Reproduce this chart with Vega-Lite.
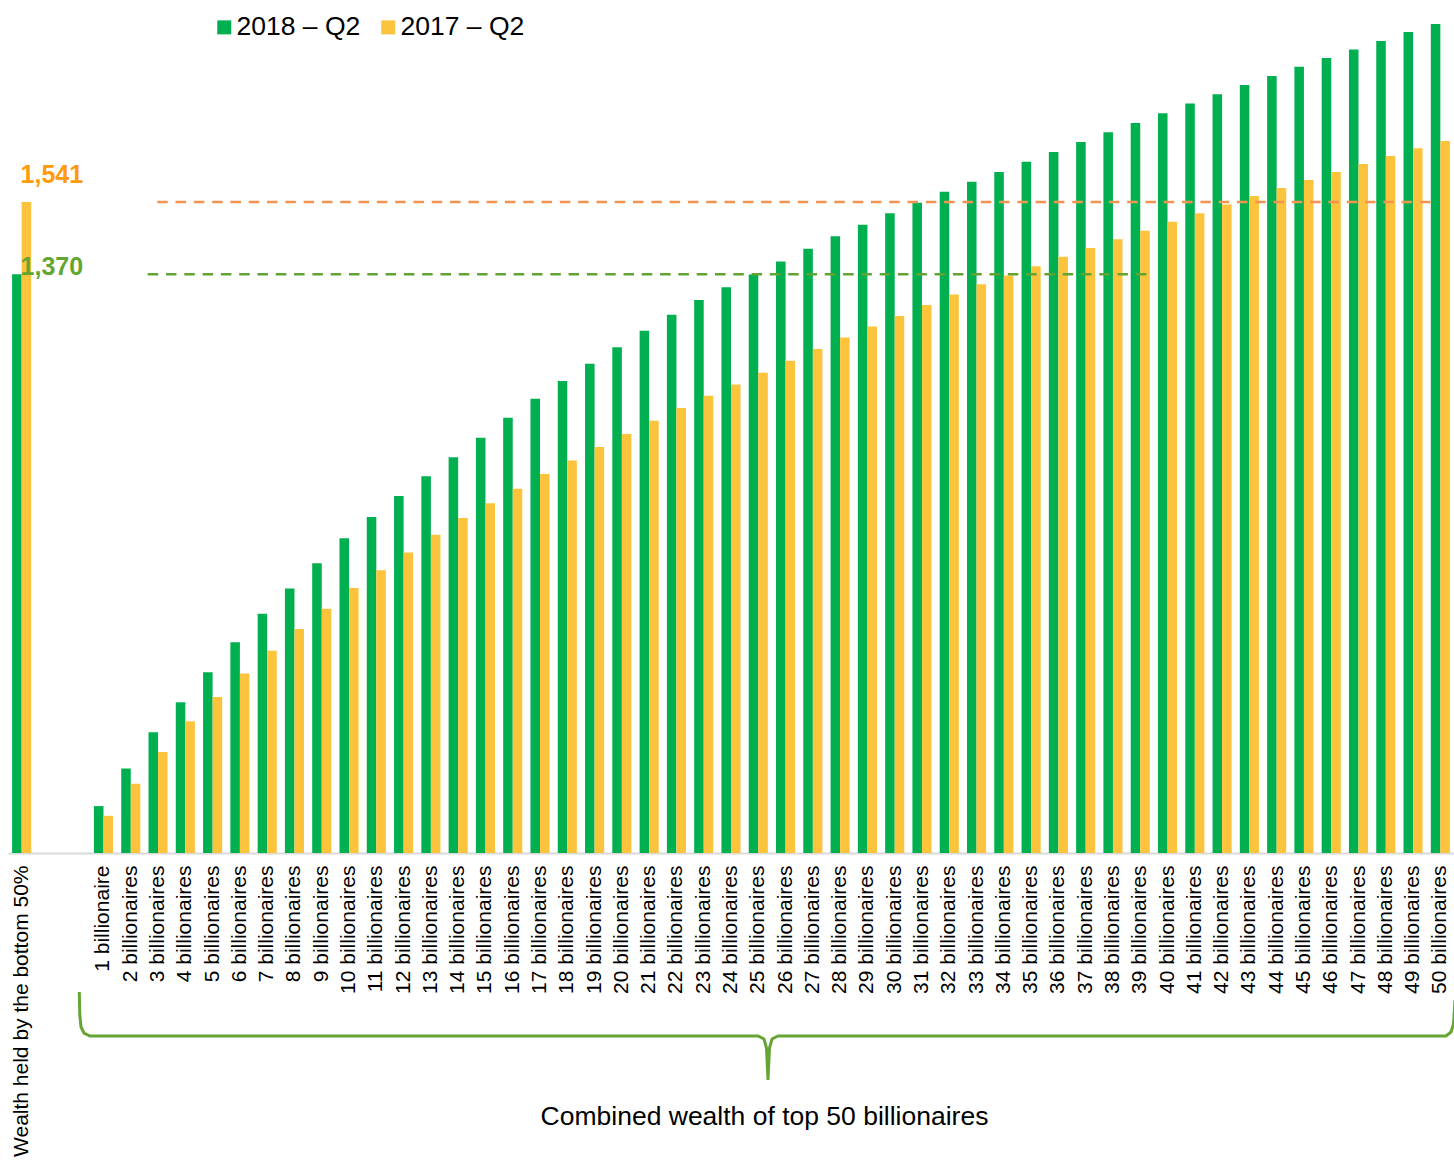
{
  "$schema": "https://vega.github.io/schema/vega-lite/v6.json",
  "width": 1446,
  "height": 853,
  "autosize": {"type": "none"},
  "padding": {"left": 8, "top": 0, "right": 0, "bottom": 307},
  "background": "white",
  "config": {"font": "Liberation Sans", "view": {"stroke": null}},
  "datasets": {
    "bars": [
      {"group": "Wealth held by the bottom 50%", "series": "2018 – Q2", "value": 1370},
      {"group": "Wealth held by the bottom 50%", "series": "2017 – Q2", "value": 1541},
      {"group": "1 billionaire", "series": "2018 – Q2", "value": 111},
      {"group": "1 billionaire", "series": "2017 – Q2", "value": 88},
      {"group": "2 billionaires", "series": "2018 – Q2", "value": 200},
      {"group": "2 billionaires", "series": "2017 – Q2", "value": 164},
      {"group": "3 billionaires", "series": "2018 – Q2", "value": 286},
      {"group": "3 billionaires", "series": "2017 – Q2", "value": 239},
      {"group": "4 billionaires", "series": "2018 – Q2", "value": 357},
      {"group": "4 billionaires", "series": "2017 – Q2", "value": 312},
      {"group": "5 billionaires", "series": "2018 – Q2", "value": 428},
      {"group": "5 billionaires", "series": "2017 – Q2", "value": 369},
      {"group": "6 billionaires", "series": "2018 – Q2", "value": 499},
      {"group": "6 billionaires", "series": "2017 – Q2", "value": 425},
      {"group": "7 billionaires", "series": "2018 – Q2", "value": 566},
      {"group": "7 billionaires", "series": "2017 – Q2", "value": 479},
      {"group": "8 billionaires", "series": "2018 – Q2", "value": 626},
      {"group": "8 billionaires", "series": "2017 – Q2", "value": 530},
      {"group": "9 billionaires", "series": "2018 – Q2", "value": 686},
      {"group": "9 billionaires", "series": "2017 – Q2", "value": 578},
      {"group": "10 billionaires", "series": "2018 – Q2", "value": 745},
      {"group": "10 billionaires", "series": "2017 – Q2", "value": 627},
      {"group": "11 billionaires", "series": "2018 – Q2", "value": 795},
      {"group": "11 billionaires", "series": "2017 – Q2", "value": 669},
      {"group": "12 billionaires", "series": "2018 – Q2", "value": 845},
      {"group": "12 billionaires", "series": "2017 – Q2", "value": 711},
      {"group": "13 billionaires", "series": "2018 – Q2", "value": 892},
      {"group": "13 billionaires", "series": "2017 – Q2", "value": 753},
      {"group": "14 billionaires", "series": "2018 – Q2", "value": 937},
      {"group": "14 billionaires", "series": "2017 – Q2", "value": 793},
      {"group": "15 billionaires", "series": "2018 – Q2", "value": 983},
      {"group": "15 billionaires", "series": "2017 – Q2", "value": 828},
      {"group": "16 billionaires", "series": "2018 – Q2", "value": 1030},
      {"group": "16 billionaires", "series": "2017 – Q2", "value": 862},
      {"group": "17 billionaires", "series": "2018 – Q2", "value": 1075},
      {"group": "17 billionaires", "series": "2017 – Q2", "value": 897},
      {"group": "18 billionaires", "series": "2018 – Q2", "value": 1117},
      {"group": "18 billionaires", "series": "2017 – Q2", "value": 929},
      {"group": "19 billionaires", "series": "2018 – Q2", "value": 1158},
      {"group": "19 billionaires", "series": "2017 – Q2", "value": 961},
      {"group": "20 billionaires", "series": "2018 – Q2", "value": 1197},
      {"group": "20 billionaires", "series": "2017 – Q2", "value": 992},
      {"group": "21 billionaires", "series": "2018 – Q2", "value": 1236},
      {"group": "21 billionaires", "series": "2017 – Q2", "value": 1023},
      {"group": "22 billionaires", "series": "2018 – Q2", "value": 1274},
      {"group": "22 billionaires", "series": "2017 – Q2", "value": 1053},
      {"group": "23 billionaires", "series": "2018 – Q2", "value": 1309},
      {"group": "23 billionaires", "series": "2017 – Q2", "value": 1082},
      {"group": "24 billionaires", "series": "2018 – Q2", "value": 1339},
      {"group": "24 billionaires", "series": "2017 – Q2", "value": 1109},
      {"group": "25 billionaires", "series": "2018 – Q2", "value": 1369},
      {"group": "25 billionaires", "series": "2017 – Q2", "value": 1137},
      {"group": "26 billionaires", "series": "2018 – Q2", "value": 1400},
      {"group": "26 billionaires", "series": "2017 – Q2", "value": 1165},
      {"group": "27 billionaires", "series": "2018 – Q2", "value": 1430},
      {"group": "27 billionaires", "series": "2017 – Q2", "value": 1193},
      {"group": "28 billionaires", "series": "2018 – Q2", "value": 1460},
      {"group": "28 billionaires", "series": "2017 – Q2", "value": 1220},
      {"group": "29 billionaires", "series": "2018 – Q2", "value": 1487},
      {"group": "29 billionaires", "series": "2017 – Q2", "value": 1246},
      {"group": "30 billionaires", "series": "2018 – Q2", "value": 1514},
      {"group": "30 billionaires", "series": "2017 – Q2", "value": 1271},
      {"group": "31 billionaires", "series": "2018 – Q2", "value": 1539},
      {"group": "31 billionaires", "series": "2017 – Q2", "value": 1297},
      {"group": "32 billionaires", "series": "2018 – Q2", "value": 1565},
      {"group": "32 billionaires", "series": "2017 – Q2", "value": 1322},
      {"group": "33 billionaires", "series": "2018 – Q2", "value": 1589},
      {"group": "33 billionaires", "series": "2017 – Q2", "value": 1346},
      {"group": "34 billionaires", "series": "2018 – Q2", "value": 1612},
      {"group": "34 billionaires", "series": "2017 – Q2", "value": 1367},
      {"group": "35 billionaires", "series": "2018 – Q2", "value": 1636},
      {"group": "35 billionaires", "series": "2017 – Q2", "value": 1389},
      {"group": "36 billionaires", "series": "2018 – Q2", "value": 1659},
      {"group": "36 billionaires", "series": "2017 – Q2", "value": 1411},
      {"group": "37 billionaires", "series": "2018 – Q2", "value": 1683},
      {"group": "37 billionaires", "series": "2017 – Q2", "value": 1432},
      {"group": "38 billionaires", "series": "2018 – Q2", "value": 1706},
      {"group": "38 billionaires", "series": "2017 – Q2", "value": 1453},
      {"group": "39 billionaires", "series": "2018 – Q2", "value": 1728},
      {"group": "39 billionaires", "series": "2017 – Q2", "value": 1473},
      {"group": "40 billionaires", "series": "2018 – Q2", "value": 1751},
      {"group": "40 billionaires", "series": "2017 – Q2", "value": 1494},
      {"group": "41 billionaires", "series": "2018 – Q2", "value": 1774},
      {"group": "41 billionaires", "series": "2017 – Q2", "value": 1514},
      {"group": "42 billionaires", "series": "2018 – Q2", "value": 1796},
      {"group": "42 billionaires", "series": "2017 – Q2", "value": 1535},
      {"group": "43 billionaires", "series": "2018 – Q2", "value": 1818},
      {"group": "43 billionaires", "series": "2017 – Q2", "value": 1555},
      {"group": "44 billionaires", "series": "2018 – Q2", "value": 1839},
      {"group": "44 billionaires", "series": "2017 – Q2", "value": 1574},
      {"group": "45 billionaires", "series": "2018 – Q2", "value": 1861},
      {"group": "45 billionaires", "series": "2017 – Q2", "value": 1593},
      {"group": "46 billionaires", "series": "2018 – Q2", "value": 1882},
      {"group": "46 billionaires", "series": "2017 – Q2", "value": 1612},
      {"group": "47 billionaires", "series": "2018 – Q2", "value": 1902},
      {"group": "47 billionaires", "series": "2017 – Q2", "value": 1631},
      {"group": "48 billionaires", "series": "2018 – Q2", "value": 1922},
      {"group": "48 billionaires", "series": "2017 – Q2", "value": 1650},
      {"group": "49 billionaires", "series": "2018 – Q2", "value": 1943},
      {"group": "49 billionaires", "series": "2017 – Q2", "value": 1668},
      {"group": "50 billionaires", "series": "2018 – Q2", "value": 1962},
      {"group": "50 billionaires", "series": "2017 – Q2", "value": 1685}
    ],
    "refs": [
      {"series": "2017 – Q2", "value": 1541, "label": "1,541", "start": 5.47, "end": 52.41, "labelAt": 0.46},
      {"series": "2018 – Q2", "value": 1370, "label": "1,370", "start": 5.12, "end": 41.77, "labelAt": 0.46}
    ],
    "brace": [
      {"i": 1, "pos": 2.613, "level": -329},
      {"i": 2, "pos": 2.632, "level": -383.5},
      {"i": 3, "pos": 2.676, "level": -411.9},
      {"i": 4, "pos": 2.786, "level": -426.1},
      {"i": 5, "pos": 3.006, "level": -433.2},
      {"i": 6, "pos": 27.49, "level": -433.2},
      {"i": 7, "pos": 27.71, "level": -440.3},
      {"i": 8, "pos": 27.801, "level": -461.6},
      {"i": 9, "pos": 27.856, "level": -537.3},
      {"i": 10, "pos": 27.911, "level": -461.6},
      {"i": 11, "pos": 28.003, "level": -440.3},
      {"i": 12, "pos": 28.223, "level": -433.2},
      {"i": 13, "pos": 52.707, "level": -433.2},
      {"i": 14, "pos": 52.89, "level": -423.7},
      {"i": 15, "pos": 52.982, "level": -404.8},
      {"i": 16, "pos": 53.037, "level": -348}
    ]
  },
  "layer": [
    {
      "data": {"name": "bars"},
      "mark": {"type": "bar"},
      "encoding": {
        "x": {
          "field": "group",
          "type": "nominal",
          "sort": null,
          "scale": {
            "domain": ["Wealth held by the bottom 50%", "gap1", "gap2", "1 billionaire", "2 billionaires", "3 billionaires", "4 billionaires", "5 billionaires", "6 billionaires", "7 billionaires", "8 billionaires", "9 billionaires", "10 billionaires", "11 billionaires", "12 billionaires", "13 billionaires", "14 billionaires", "15 billionaires", "16 billionaires", "17 billionaires", "18 billionaires", "19 billionaires", "20 billionaires", "21 billionaires", "22 billionaires", "23 billionaires", "24 billionaires", "25 billionaires", "26 billionaires", "27 billionaires", "28 billionaires", "29 billionaires", "30 billionaires", "31 billionaires", "32 billionaires", "33 billionaires", "34 billionaires", "35 billionaires", "36 billionaires", "37 billionaires", "38 billionaires", "39 billionaires", "40 billionaires", "41 billionaires", "42 billionaires", "43 billionaires", "44 billionaires", "45 billionaires", "46 billionaires", "47 billionaires", "48 billionaires", "49 billionaires", "50 billionaires"],
            "paddingInner": 0.3,
            "paddingOuter": 0.15
          },
          "axis": {
            "title": "Combined wealth of top 50 billionaires",
            "titleFontSize": 26.5,
            "titleFontWeight": "normal",
            "titleColor": "#000000",
            "titleX": 756,
            "titleY": 271,
            "titleAlign": "center",
            "titleBaseline": "alphabetic",
            "labelAngle": -90,
            "labelFontSize": 21,
            "labelColor": "#000000",
            "labelPadding": 12,
            "labelLimit": 500,
            "labelOverlap": false,
            "labelBound": false,
            "labelExpr": "indexof(datum.label, 'gap') === 0 ? '' : datum.label",
            "ticks": false,
            "domainColor": "#D9D9D9",
            "domainWidth": 2,
            "grid": false
          }
        },
        "xOffset": {
          "field": "series",
          "type": "nominal",
          "scale": {"domain": ["2018 – Q2", "2017 – Q2"], "paddingInner": 0, "paddingOuter": 0}
        },
        "y": {
          "field": "value",
          "type": "quantitative",
          "scale": {"domain": [0, 2019], "nice": false, "zero": true},
          "axis": null
        },
        "color": {
          "field": "series",
          "type": "nominal",
          "scale": {"domain": ["2018 – Q2", "2017 – Q2"], "range": ["#00B050", "#FCC43C"]},
          "legend": {
            "title": null,
            "orient": "none",
            "legendX": 203,
            "legendY": 14,
            "direction": "horizontal",
            "symbolType": "square",
            "symbolSize": 196,
            "symbolStrokeWidth": 0,
            "labelFontSize": 26.5,
            "labelColor": "#000000",
            "labelOffset": -1,
            "columnPadding": 14,
            "padding": 0
          }
        }
      }
    },
    {
      "data": {"name": "refs"},
      "mark": {"type": "rule", "strokeDash": [10.5, 7.8], "strokeWidth": 2.5},
      "encoding": {
        "x": {"field": "start", "type": "quantitative", "scale": {"domain": [0, 53], "nice": false, "zero": false}, "axis": null},
        "x2": {"field": "end"},
        "y": {"field": "value", "type": "quantitative", "scale": {"domain": [0, 2019], "nice": false}, "axis": null},
        "color": {
          "field": "series",
          "type": "nominal",
          "scale": {"domain": ["2018 – Q2", "2017 – Q2"], "range": ["#62A433", "#F39352"]},
          "legend": null
        }
      }
    },
    {
      "data": {"name": "refs"},
      "transform": [{"filter": "datum.series === '2017 – Q2'"}],
      "mark": {"type": "text", "align": "left", "baseline": "middle", "dy": -27, "fontSize": 25, "fontWeight": "bold", "color": "#FF9A0A"},
      "encoding": {
        "x": {"field": "labelAt", "type": "quantitative", "scale": {"domain": [0, 53], "nice": false, "zero": false}, "axis": null},
        "y": {"field": "value", "type": "quantitative", "scale": {"domain": [0, 2019], "nice": false}, "axis": null},
        "text": {"field": "label"}
      }
    },
    {
      "data": {"name": "refs"},
      "transform": [{"filter": "datum.series === '2018 – Q2'"}],
      "mark": {"type": "text", "align": "left", "baseline": "middle", "dy": -7, "fontSize": 25, "fontWeight": "bold", "color": "#62A632"},
      "encoding": {
        "x": {"field": "labelAt", "type": "quantitative", "scale": {"domain": [0, 53], "nice": false, "zero": false}, "axis": null},
        "y": {"field": "value", "type": "quantitative", "scale": {"domain": [0, 2019], "nice": false}, "axis": null},
        "text": {"field": "label"}
      }
    },
    {
      "data": {"name": "brace"},
      "mark": {"type": "line", "color": "#64A535", "strokeWidth": 3, "clip": false},
      "encoding": {
        "x": {"field": "pos", "type": "quantitative", "scale": {"domain": [0, 53], "nice": false, "zero": false}, "axis": null},
        "y": {"field": "level", "type": "quantitative", "scale": {"domain": [0, 2019], "nice": false, "zero": false}, "axis": null},
        "order": {"field": "i", "type": "quantitative"}
      }
    }
  ],
  "resolve": {"scale": {"x": "independent", "color": "independent"}}
}
